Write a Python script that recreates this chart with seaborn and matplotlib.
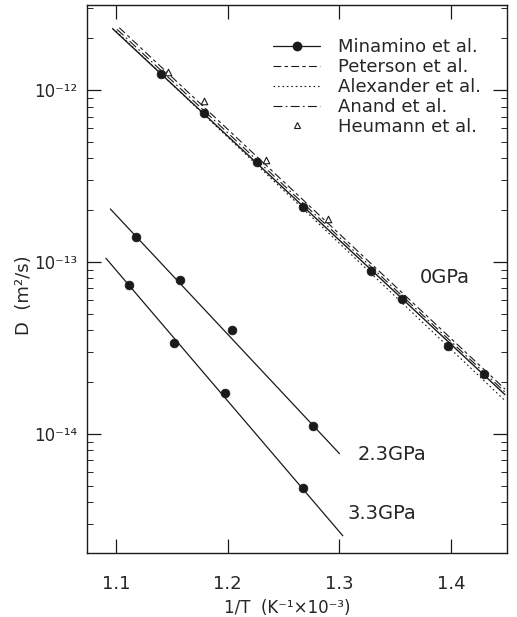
import numpy as np
import matplotlib
matplotlib.use('Agg')
import matplotlib.pyplot as plt
from matplotlib.lines import Line2D
from matplotlib.ticker import LogLocator, NullFormatter, FixedLocator, FuncFormatter
import seaborn as sns

sns.set_style('ticks')
plt.rcParams['font.family'] = ['DejaVu Sans']

# ---- data (x = 1/T in 1e-3 1/K, D in m^2/s) ----
# Minamino et al. measured points
min0_x = [1.140, 1.179, 1.226, 1.267, 1.328, 1.356, 1.397, 1.429]
min0_D = [1.24e-12, 7.35e-13, 3.81e-13, 2.09e-13, 8.87e-14, 6.10e-14, 3.25e-14, 2.23e-14]
min23_x = [1.118, 1.157, 1.204, 1.276]
min23_D = [1.40e-13, 7.85e-14, 4.03e-14, 1.11e-14]
min33_x = [1.112, 1.152, 1.198, 1.267]
min33_D = [7.34e-14, 3.38e-14, 1.73e-14, 4.85e-15]

# fitted lines (end points)
fit0_x = [1.097, 1.448]
fit0_D = [2.27e-12, 1.69e-14]
fit23_x = [1.095, 1.300]
fit23_D = [2.03e-13, 7.66e-15]
fit33_x = [1.091, 1.303]
fit33_D = [1.05e-13, 2.55e-15]

# literature lines at 0 GPa
peterson_x = [1.103, 1.448]
peterson_D = [2.30e-12, 1.82e-14]
alexander_x = [1.100, 1.448]
alexander_D = [2.20e-12, 1.56e-14]
anand_x = [1.101, 1.448]
anand_D = [2.25e-12, 1.75e-14]

# Heumann et al. points
heumann_x = [1.147, 1.179, 1.234, 1.290]
heumann_D = [1.27e-12, 8.63e-13, 3.92e-13, 1.78e-13]

labels = ['Minamino et al.', 'Peterson et al.', 'Alexander et al.',
          'Anand et al.', 'Heumann et al.']
pressures = ['0GPa', '2.3GPa', '3.3GPa']
xticks = [1.1, 1.2, 1.3, 1.4]

ink = '#1a1a1a'
fig = plt.figure(figsize=(5.17, 6.17), dpi=100)
ax = fig.add_axes([0.168, 0.104, 0.813, 0.888])

# lines
sns.lineplot(x=fit0_x, y=fit0_D, color=ink, lw=1.0, ax=ax)
sns.lineplot(x=peterson_x, y=peterson_D, color=ink, lw=0.8, ax=ax,
             linestyle=(0, (7, 3, 3, 3)))
sns.lineplot(x=alexander_x, y=alexander_D, color=ink, lw=0.8, ax=ax,
             linestyle=(0, (1.5, 2.5)))
sns.lineplot(x=anand_x, y=anand_D, color=ink, lw=0.8, ax=ax,
             linestyle=(0, (8, 3, 1.5, 3)))
sns.lineplot(x=fit23_x, y=fit23_D, color=ink, lw=0.9, ax=ax)
sns.lineplot(x=fit33_x, y=fit33_D, color=ink, lw=0.9, ax=ax)

# points
for xs, ds in [(min0_x, min0_D), (min23_x, min23_D), (min33_x, min33_D)]:
    sns.scatterplot(x=xs, y=ds, color=ink, s=40, edgecolor=ink, ax=ax, zorder=5)
sns.scatterplot(x=heumann_x, y=heumann_D, marker='^', s=22, facecolor='white',
                edgecolor=ink, linewidth=0.8, ax=ax, zorder=5)

ax.set_yscale('log')
ax.set_xlim(1.074, 1.450)
ax.set_ylim(2.03e-15, 3.12e-12)

sup = str.maketrans('-0123456789', '⁻⁰¹²³⁴⁵⁶⁷⁸⁹')
ax.xaxis.set_major_locator(FixedLocator(xticks))
ax.set_xticklabels([f'{t:.1f}' for t in xticks])
ax.yaxis.set_major_locator(FixedLocator([1e-14, 1e-13, 1e-12]))
ax.yaxis.set_major_formatter(FuncFormatter(
    lambda v, p: '10' + str(int(round(np.log10(v)))).translate(sup)))
ax.yaxis.set_minor_locator(LogLocator(base=10, subs=np.arange(2, 10)))
ax.yaxis.set_minor_formatter(NullFormatter())

ax.tick_params(axis='both', which='major', direction='in', top=True, right=True,
               length=10, width=0.9, color=ink)
ax.tick_params(axis='x', which='major', pad=16, labelsize=13)
ax.tick_params(axis='y', which='major', pad=7, labelsize=12)
ax.tick_params(axis='y', which='minor', direction='in', right=True, length=4, width=0.7)
for s in ax.spines.values():
    s.set_linewidth(1.0)
    s.set_color(ink)

ax.set_xlabel('1/T  (K⁻¹×10⁻³)', fontsize=12)
ax.set_ylabel('D  (m²/s)', fontsize=13)
ax.xaxis.set_label_coords(0.476, -0.084)
ax.yaxis.set_label_coords(-0.128, 0.47)

# pressure annotations
ax.text(1.372, 8.07e-14, pressures[0], fontsize=14, va='center', ha='left')
ax.text(1.316, 7.55e-15, pressures[1], fontsize=14, va='center', ha='left')
ax.text(1.307, 3.43e-15, pressures[2], fontsize=14, va='center', ha='left')

handles = [
    Line2D([], [], color=ink, lw=0.9, marker='o', markersize=6),
    Line2D([], [], color=ink, lw=0.8, linestyle=(0, (7, 3, 3, 3))),
    Line2D([], [], color=ink, lw=0.8, linestyle=(0, (1.5, 2.5))),
    Line2D([], [], color=ink, lw=0.8, linestyle=(0, (8, 3, 1.5, 3))),
    Line2D([], [], color=ink, lw=0, marker='^', markersize=5,
           markerfacecolor='white', markeredgewidth=0.8),
]
ax.legend(handles, labels, loc='upper right', bbox_to_anchor=(0.955, 0.952),
          frameon=False, fontsize=13, labelspacing=0.1, handlelength=2.6,
          handletextpad=1.0, borderaxespad=0)

fig.savefig('out.png', dpi=100)
